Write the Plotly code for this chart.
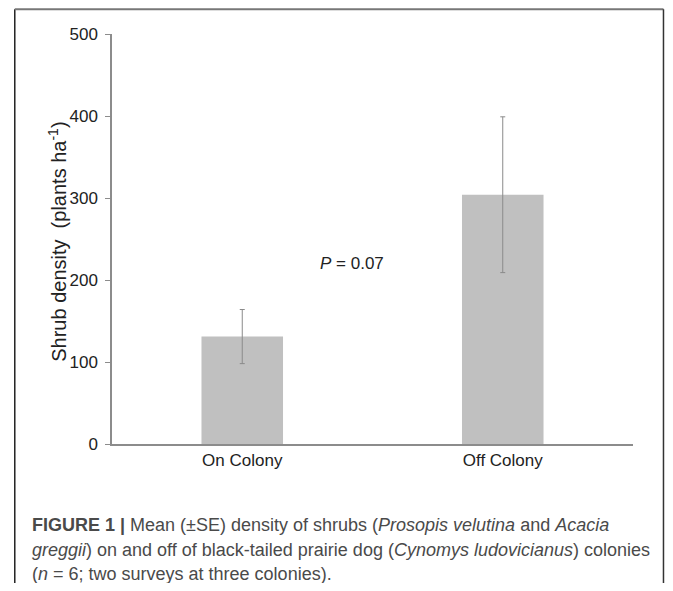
import plotly.graph_objects as go

categories = ["On Colony", "Off Colony"]
means = [131, 304]
se = [33, 95]
y_ticks = [0, 100, 200, 300, 400, 500]
p_label = "<i>P</i> = 0.07"
y_title = "Shrub density  (plants ha<sup>-1</sup>)"
caption_lines = [
    "<b>FIGURE 1 |</b> Mean (±SE) density of shrubs (<i>Prosopis velutina</i> and <i>Acacia</i>",
    "<i>greggii</i>) on and off of black-tailed prairie dog (<i>Cynomys ludovicianus</i>) colonies",
    "(<i>n</i> = 6; two surveys at three colonies).",
]

# page body has an 8px margin: work in page pixels, convert to figure pixels
OFF = 8
W, H = 673 - OFF, 591 - 2 * OFF
L, R, T, B = 111.6 - OFF, 633.0 - OFF, 34.3 - OFF, 444.0 - OFF
pw, ph = R - L, B - T

def px_x(x):
    return (x - OFF - L) / pw

def px_y(y):
    return (B - (y - OFF)) / ph

fig = go.Figure()
fig.add_trace(go.Bar(
    x=categories, y=means,
    marker=dict(color="#c0c0c0", line=dict(width=0)),
    error_y=dict(type="data", array=se, visible=True, color="#8a8a8a", thickness=1, width=2.5),
    showlegend=False,
))

annotations = [
    dict(text=p_label, x=0.42, y=220, xref="x", yref="y", showarrow=False,
         font=dict(family="Liberation Sans, Arial", size=17, color="#222"),
         xanchor="center", yanchor="middle"),
    dict(text=y_title, x=px_x(57), y=px_y(241.5), xref="paper", yref="paper", showarrow=False,
         textangle=-90, font=dict(family="Liberation Sans, Arial", size=20, color="#222"),
         xanchor="center", yanchor="middle"),
]
line_y = [525, 549.5, 574]
for txt, ly in zip(caption_lines, line_y):
    annotations.append(dict(
        text=txt, x=px_x(30), y=px_y(ly), xref="paper", yref="paper", showarrow=False,
        font=dict(family="Liberation Sans, Arial", size=18, color="#4a4a4a"),
        xanchor="left", yanchor="middle", align="left",
    ))

RIGHT_EDGE = 663.5
shapes = [
    dict(type="line", xref="paper", yref="paper", x0=px_x(14.3), x1=px_x(14.3), y0=px_y(9.5), y1=px_y(600),
         line=dict(color="#222", width=1.5)),
    dict(type="line", xref="paper", yref="paper", x0=px_x(14.3), x1=px_x(RIGHT_EDGE), y0=px_y(9.5), y1=px_y(9.5),
         line=dict(color="#777", width=2)),
    dict(type="line", xref="paper", yref="paper", x0=px_x(RIGHT_EDGE), x1=px_x(RIGHT_EDGE), y0=px_y(9.5), y1=px_y(600),
         line=dict(color="#333", width=1.5)),
]

fig.update_layout(
    width=W, height=H,
    margin=dict(l=L, r=W - R, t=T, b=H - B),
    paper_bgcolor="white", plot_bgcolor="white",
    bargap=0.687,
    font=dict(family="Liberation Sans, Arial", size=17, color="#222"),
    xaxis=dict(showline=True, linecolor="#8c8c8c", linewidth=2, ticks="", showgrid=False,
               tickfont=dict(size=17, color="#222"), zeroline=False),
    yaxis=dict(range=[0, 500], tickvals=y_ticks, showline=True, linecolor="#8c8c8c", linewidth=1.5,
               ticks="outside", ticklen=5, tickcolor="#8c8c8c", showgrid=False, zeroline=False,
               tickfont=dict(size=17, color="#222"), ticklabelstandoff=4),
    annotations=annotations,
    shapes=shapes,
)

fig.write_html("out.html")
